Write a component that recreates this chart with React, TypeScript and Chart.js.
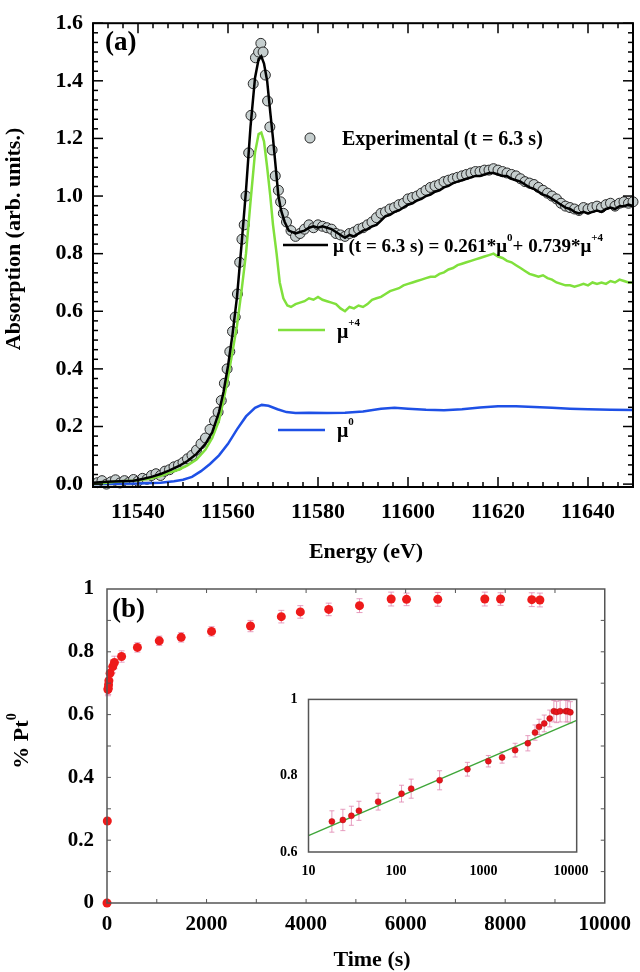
import React, { useEffect, useRef } from "react";
import { Chart, registerables } from "chart.js";

Chart.register(...registerables);

const SERIF = '"Liberation Serif", "Times New Roman", Times, serif';

// ---------------- Panel (a) data ----------------
const gridEnergy = [
  11575, 11576, 11577, 11578, 11579, 11580, 11581, 11582, 11583, 11584,
  11585, 11586, 11587, 11588, 11589, 11590, 11591, 11592, 11593, 11594,
  11595, 11596, 11597, 11598, 11599, 11600, 11601, 11602, 11603, 11604,
  11605, 11606, 11607, 11608, 11609, 11610, 11611, 11612, 11613, 11614,
  11615, 11616, 11617, 11618, 11619, 11620, 11621, 11622, 11623, 11624,
  11625, 11626, 11627, 11628, 11629, 11630, 11631, 11632, 11633, 11634,
  11635, 11636, 11637, 11638, 11639, 11640, 11641, 11642, 11643, 11644,
  11645, 11646, 11647, 11648, 11649, 11650,
];

const expEnergy = [
  11531, 11532, 11533, 11534, 11535, 11536, 11537, 11538, 11539, 11540,
  11541, 11542, 11543, 11544, 11545, 11546, 11547, 11548, 11549, 11550,
  11551, 11552, 11553, 11554, 11555, 11556, 11557,
  11557.8, 11558.5, 11559.2, 11559.8, 11560.4, 11561.0, 11561.6, 11562.1, 11562.6, 11563.1,
  11563.6, 11564.0, 11564.6, 11565.1, 11565.6, 11566.1, 11566.8, 11567.3, 11567.8, 11568.3,
  11568.8, 11569.3, 11569.8, 11570.5, 11571.2, 11571.7, 11572.3, 11573.0, 11574.0,
  ...gridEnergy,
];
const expAbs = [
  0.005, 0.012, 0.0, 0.008, 0.015, 0.004, 0.012, 0.006, 0.016, 0.01,
  0.02, 0.017, 0.03, 0.036, 0.03, 0.045, 0.05, 0.06, 0.066, 0.075,
  0.088, 0.1, 0.118, 0.14, 0.16, 0.19, 0.22,
  0.25, 0.29, 0.35, 0.4, 0.46, 0.53, 0.58, 0.66, 0.77, 0.85,
  0.9, 1.0, 1.15, 1.28, 1.39, 1.48, 1.5, 1.53, 1.5, 1.42,
  1.33, 1.24, 1.16, 1.07, 1.02, 0.98, 0.94, 0.91, 0.88,
  0.86, 0.87, 0.885, 0.9, 0.89, 0.9, 0.895, 0.89, 0.885, 0.87,
  0.865, 0.86, 0.87, 0.875, 0.885, 0.89, 0.9, 0.91, 0.925, 0.94,
  0.945, 0.955, 0.96, 0.97, 0.975, 0.99, 0.995, 1.0, 1.01, 1.02,
  1.03, 1.035, 1.04, 1.05, 1.055, 1.06, 1.065, 1.07, 1.075, 1.08,
  1.085, 1.085, 1.09, 1.09, 1.095, 1.09, 1.085, 1.08, 1.075, 1.07,
  1.06, 1.05, 1.045, 1.04, 1.03, 1.02, 1.01, 1.0, 0.99, 0.975,
  0.965, 0.96, 0.955, 0.95, 0.96, 0.955, 0.96, 0.965, 0.96, 0.97,
  0.975, 0.965, 0.975, 0.98, 0.975, 0.98,
];

const fitEnergy = [
  11530, 11533, 11536, 11539, 11541, 11543, 11545, 11547, 11549, 11551,
  11553, 11555, 11556.5, 11558, 11559, 11560, 11561, 11562, 11563, 11564,
  11565, 11566, 11566.8, 11567.4, 11568, 11568.7, 11569.4, 11570, 11570.6, 11571.2,
  11571.8, 11572.6, 11573.5,
  ...gridEnergy,
];
const fitAbs = [
  0.005, 0.008, 0.01, 0.012, 0.018, 0.025, 0.035, 0.048, 0.062, 0.08,
  0.105, 0.14, 0.18, 0.25, 0.32, 0.41, 0.52, 0.65, 0.83, 1.02,
  1.24, 1.41, 1.475, 1.485, 1.46, 1.4, 1.29, 1.2, 1.1, 1.0,
  0.95, 0.91, 0.88,
  0.87, 0.875, 0.88, 0.89, 0.895, 0.89, 0.895, 0.89, 0.885, 0.875,
  0.865, 0.855, 0.865, 0.86, 0.87, 0.88, 0.885, 0.895, 0.9, 0.915,
  0.93, 0.935, 0.945, 0.95, 0.96,
  0.97, 0.975, 0.985, 0.99, 1.0, 1.005, 1.015, 1.02, 1.03, 1.035,
  1.045, 1.05, 1.055, 1.06, 1.065, 1.07, 1.07, 1.075, 1.08, 1.08,
  1.075, 1.07, 1.07, 1.06, 1.055, 1.05, 1.04, 1.03, 1.025, 1.015,
  1.005, 1.0, 0.99, 0.98, 0.97, 0.96, 0.955, 0.945, 0.94, 0.945,
  0.94, 0.945, 0.95, 0.945, 0.955, 0.96, 0.955, 0.965, 0.965, 0.97,
  0.965,
];

const pt4Energy = [
  11530, 11533, 11536, 11539, 11541, 11543, 11545, 11547, 11549, 11551,
  11553, 11555, 11556.5, 11558, 11559, 11560, 11561, 11562, 11563, 11564,
  11565, 11566, 11566.8, 11567.4, 11568, 11568.7, 11569.4, 11570, 11570.8, 11571.5,
  11572.3, 11573.2, 11574,
  ...gridEnergy,
];
const pt4Abs = [
  0.0, 0.005, 0.01, 0.012, 0.015, 0.02, 0.028, 0.04, 0.05, 0.065,
  0.085, 0.12, 0.16, 0.22, 0.29, 0.37, 0.46, 0.55, 0.67, 0.8,
  0.98, 1.15, 1.215, 1.22, 1.19, 1.1, 1.0, 0.9, 0.8, 0.7,
  0.645, 0.62, 0.615,
  0.625, 0.63, 0.635, 0.645, 0.64, 0.65, 0.64, 0.635, 0.63, 0.625,
  0.61, 0.6, 0.615, 0.61, 0.62, 0.615, 0.625, 0.64, 0.645, 0.65,
  0.66, 0.67, 0.675, 0.68, 0.69,
  0.695, 0.7, 0.705, 0.71, 0.715, 0.72, 0.72, 0.73, 0.735, 0.745,
  0.75, 0.76, 0.765, 0.77, 0.775, 0.78, 0.785, 0.79, 0.795, 0.8,
  0.79, 0.785, 0.775, 0.77, 0.76, 0.75, 0.74, 0.73, 0.725, 0.72,
  0.725, 0.715, 0.71, 0.7, 0.695, 0.69, 0.69, 0.685, 0.69, 0.695,
  0.69, 0.7, 0.695, 0.7, 0.695, 0.705, 0.7, 0.71, 0.705, 0.7,
  0.7,
];

const pt0Energy = [
  11530, 11540, 11545, 11548, 11550, 11552, 11554, 11556, 11558, 11560,
  11562, 11564, 11566, 11567.5, 11569, 11571, 11573, 11575, 11578, 11582,
  11586, 11590, 11594, 11597, 11600, 11604, 11608, 11612, 11616, 11620,
  11624, 11628, 11632, 11636, 11640, 11645, 11650,
];
const pt0Abs = [
  0.0, 0.002, 0.005, 0.01, 0.015, 0.025, 0.045, 0.07, 0.1, 0.14,
  0.19, 0.235, 0.265, 0.275, 0.272, 0.26, 0.25, 0.247, 0.248, 0.247,
  0.248, 0.252, 0.262, 0.265, 0.262, 0.258, 0.256, 0.26, 0.266, 0.27,
  0.27, 0.268, 0.265, 0.262, 0.26, 0.258, 0.257,
];

const energyTicks = [11540, 11560, 11580, 11600, 11620, 11640];
const absTicks = [0, 0.2, 0.4, 0.6, 0.8, 1.0, 1.2, 1.4, 1.6];

// ---------------- Panel (b) data ----------------
const timeS = [
  0, 6.3, 18.5, 24.7, 30.9, 37.7, 62.5, 115.6, 149, 293,
  611, 1050, 1490, 2100, 2883, 3502, 3884, 4454, 5073, 5709,
  6018, 6645, 7590, 7907, 8534, 8697,
];
const ptFrac = [
  0, 0.261, 0.68, 0.684, 0.695, 0.708, 0.732, 0.753, 0.766, 0.785,
  0.814, 0.835, 0.846, 0.865, 0.882, 0.912, 0.927, 0.935, 0.947, 0.968,
  0.967, 0.967, 0.968, 0.968, 0.966, 0.965,
];
const ptErr = [
  0, 0, 0.02, 0.02, 0.02, 0.02, 0.02, 0.02, 0.02, 0.018,
  0.015, 0.015, 0.015, 0.015, 0.018, 0.02, 0.02, 0.02, 0.022, 0.022,
  0.02, 0.022, 0.022, 0.02, 0.022, 0.022,
];
const timeTicks = [0, 2000, 4000, 6000, 8000, 10000];
const fracTicks = [0, 0.2, 0.4, 0.6, 0.8, 1];

// inset (log time)
const insetTime = [
  18.5, 24.7, 30.9, 37.7, 62.5, 115.6, 149, 315, 654, 1135,
  1630, 2296, 3207, 3873, 4315, 4940, 5710, 6365, 6840, 7500,
  8735, 9150, 9820,
];
const insetFrac = [
  0.68, 0.684, 0.695, 0.708, 0.732, 0.753, 0.766, 0.788, 0.817, 0.838,
  0.848, 0.867, 0.885, 0.913, 0.928, 0.937, 0.95, 0.969, 0.967, 0.969,
  0.969, 0.969, 0.966,
];
const insetErr = [
  0.028, 0.028, 0.025, 0.025, 0.022, 0.022, 0.025, 0.025, 0.018, 0.015,
  0.015, 0.018, 0.02, 0.02, 0.02, 0.022, 0.022, 0.028, 0.028, 0.028,
  0.028, 0.028, 0.028,
];
const logFitTime = [10, 11600];
const logFitFrac = [0.643, 0.945];
const insetTimeTicks = [10, 100, 1000, 10000];
const insetFracTicks = [0.6, 0.8, 1];

// ---------------- helpers ----------------
type Part = { t: string; sup?: boolean };

function richWidth(ctx: CanvasRenderingContext2D, parts: Part[], size: number, supSize: number) {
  let w = 0;
  for (const p of parts) {
    ctx.font = `bold ${p.sup ? supSize : size}px ${SERIF}`;
    w += ctx.measureText(p.t).width;
  }
  return w;
}

function drawRich(
  ctx: CanvasRenderingContext2D,
  parts: Part[],
  x: number,
  baseline: number,
  size: number,
  supSize: number,
  raise: number,
  align: "left" | "center" = "left"
) {
  const w = richWidth(ctx, parts, size, supSize);
  let cx = align === "center" ? x - w / 2 : x;
  ctx.textAlign = "left";
  ctx.textBaseline = "alphabetic";
  for (const p of parts) {
    ctx.font = `bold ${p.sup ? supSize : size}px ${SERIF}`;
    ctx.fillText(p.t, cx, p.sup ? baseline - raise : baseline);
    cx += ctx.measureText(p.t).width;
  }
}

function line(ctx: CanvasRenderingContext2D, x1: number, y1: number, x2: number, y2: number) {
  ctx.beginPath();
  ctx.moveTo(x1, y1);
  ctx.lineTo(x2, y2);
  ctx.stroke();
}

function pts(xs: number[], ys: number[]) {
  return xs.map((x, i) => ({ x, y: ys[i] }));
}

function errorBars(chart: any, xs: number[], ys: number[], errs: number[], cap: number) {
  const { ctx, scales } = chart;
  ctx.save();
  ctx.strokeStyle = "rgba(226,140,180,0.85)";
  ctx.lineWidth = 1;
  xs.forEach((t, i) => {
    if (!errs[i]) return;
    const px = scales.x.getPixelForValue(t);
    const y1 = scales.y.getPixelForValue(ys[i] - errs[i]);
    const y2 = scales.y.getPixelForValue(ys[i] + errs[i]);
    line(ctx, px, y1, px, y2);
    line(ctx, px - cap, y1, px + cap, y1);
    line(ctx, px - cap, y2, px + cap, y2);
  });
  ctx.restore();
}

const tickFont = (size: number) => ({ family: SERIF, size, weight: "bold" as const });

// ---------------- plugins ----------------
const panelAPlugin = {
  id: "panelA",
  afterDraw(chart: any) {
    const { ctx, chartArea: ca, scales } = chart;
    const xs = scales.x;
    const ys = scales.y;
    ctx.save();
    ctx.strokeStyle = "#000";
    ctx.lineWidth = 2;
    ctx.strokeRect(ca.left, ca.top, ca.right - ca.left, ca.bottom - ca.top);
    ctx.lineWidth = 1.5;
    for (let k = -3; k <= 33; k++) {
      const v = 11540 + (k * 20) / 6;
      if (v < 11530 - 1e-6 || v > 11650 + 1e-6) continue;
      const px = xs.getPixelForValue(v);
      const L = k % 6 === 0 ? 10 : 5;
      line(ctx, px, ca.bottom, px, ca.bottom - L);
      line(ctx, px, ca.top, px, ca.top + L);
    }
    for (let k = 0; k <= 48; k++) {
      const v = (k * 0.2) / 6;
      const py = ys.getPixelForValue(v);
      const L = k % 6 === 0 ? 10 : 5;
      line(ctx, ca.left, py, ca.left + L, py);
      line(ctx, ca.right, py, ca.right - L, py);
    }

    ctx.fillStyle = "#000";
    // panel label
    ctx.font = `bold 27px ${SERIF}`;
    ctx.textAlign = "left";
    ctx.textBaseline = "middle";
    ctx.fillText("(a)", 105, 43);

    // legend: experimental
    ctx.beginPath();
    ctx.arc(310, 138, 5, 0, Math.PI * 2);
    ctx.fillStyle = "#c6cfcf";
    ctx.fill();
    ctx.strokeStyle = "#2a2a2a";
    ctx.lineWidth = 1;
    ctx.stroke();
    ctx.fillStyle = "#000";
    drawRich(ctx, [{ t: "Experimental (t = 6.3 s)" }], 342, 145, 20, 12, 0);

    // legend: fit
    ctx.strokeStyle = "#000";
    ctx.lineWidth = 2.5;
    line(ctx, 283, 245, 328, 245);
    drawRich(
      ctx,
      [
        { t: "\u03bc (t = 6.3 s) = 0.261*\u03bc" },
        { t: "0", sup: true },
        { t: "+ 0.739*\u03bc" },
        { t: "+4", sup: true },
      ],
      333,
      252,
      19,
      11,
      11
    );

    // legend: mu+4
    ctx.strokeStyle = "#80e03c";
    line(ctx, 278, 330, 325, 330);
    drawRich(ctx, [{ t: "\u03bc" }, { t: "+4", sup: true }], 337, 338, 20, 11, 12);

    // legend: mu0
    ctx.strokeStyle = "#1e50e6";
    line(ctx, 278, 430, 325, 430);
    drawRich(ctx, [{ t: "\u03bc" }, { t: "0", sup: true }], 337, 437, 20, 11, 12);

    // axis titles
    ctx.font = `bold 22px ${SERIF}`;
    ctx.textAlign = "center";
    ctx.textBaseline = "middle";
    ctx.fillText("Energy (eV)", 366, 552);
    ctx.save();
    ctx.translate(14, 239);
    ctx.rotate(-Math.PI / 2);
    ctx.fillText("Absorption (arb. units.)", 0, 0);
    ctx.restore();
    ctx.restore();
  },
};

const panelBPlugin = {
  id: "panelB",
  beforeDatasetsDraw(chart: any) {
    errorBars(chart, timeS, ptFrac, ptErr, 3);
  },
  afterDraw(chart: any) {
    const { ctx, chartArea: ca, scales } = chart;
    ctx.save();
    ctx.strokeStyle = "#555";
    ctx.lineWidth = 1.5;
    ctx.strokeRect(ca.left, ca.top, ca.right - ca.left, ca.bottom - ca.top);
    ctx.lineWidth = 1;
    for (let k = 1; k < 10; k++) {
      const px = scales.x.getPixelForValue(k * 1000);
      line(ctx, px, ca.bottom, px, ca.bottom - 4);
      line(ctx, px, ca.top, px, ca.top + 4);
    }
    for (let k = 1; k < 10; k++) {
      const py = scales.y.getPixelForValue(k / 10);
      line(ctx, ca.left, py, ca.left + 4, py);
      line(ctx, ca.right, py, ca.right - 4, py);
    }
    ctx.fillStyle = "#000";
    ctx.font = `bold 27px ${SERIF}`;
    ctx.textAlign = "left";
    ctx.textBaseline = "middle";
    ctx.fillText("(b)", 112, 70);

    ctx.font = `bold 22px ${SERIF}`;
    ctx.textAlign = "center";
    ctx.fillText("Time (s)", 372, 420);

    ctx.save();
    ctx.translate(21, 201);
    ctx.rotate(-Math.PI / 2);
    drawRich(ctx, [{ t: "% Pt" }, { t: "0", sup: true }], 0, 7, 22, 14, 12, "center");
    ctx.restore();
    ctx.restore();
  },
};

const insetPlugin = {
  id: "inset",
  beforeDatasetsDraw(chart: any) {
    errorBars(chart, insetTime, insetFrac, insetErr, 2.5);
  },
  afterDraw(chart: any) {
    const { ctx, chartArea: ca } = chart;
    ctx.save();
    ctx.strokeStyle = "#555";
    ctx.lineWidth = 1.5;
    ctx.strokeRect(ca.left, ca.top, ca.right - ca.left, ca.bottom - ca.top);
    ctx.restore();
  },
};

export default function App() {
  const aRef = useRef<HTMLCanvasElement>(null);
  const bRef = useRef<HTMLCanvasElement>(null);
  const iRef = useRef<HTMLCanvasElement>(null);

  useEffect(() => {
    const charts: Chart[] = [];

    charts.push(
      new Chart(aRef.current as HTMLCanvasElement, {
        type: "scatter",
        data: {
          datasets: [
            {
              label: "fit",
              data: pts(fitEnergy, fitAbs),
              showLine: true,
              borderColor: "#000",
              borderWidth: 2.5,
              pointRadius: 0,
            },
            {
              label: "mu+4",
              data: pts(pt4Energy, pt4Abs),
              showLine: true,
              borderColor: "#80e03c",
              borderWidth: 2.5,
              pointRadius: 0,
            },
            {
              label: "mu0",
              data: pts(pt0Energy, pt0Abs),
              showLine: true,
              borderColor: "#1e50e6",
              borderWidth: 2.5,
              pointRadius: 0,
            },
            {
              label: "Experimental",
              data: pts(expEnergy, expAbs),
              showLine: false,
              pointRadius: 5,
              pointBackgroundColor: "#c6cfcf",
              pointBorderColor: "#2a2a2a",
              pointBorderWidth: 1,
              clip: false,
            } as any,
          ],
        },
        options: {
          responsive: false,
          animation: false,
          devicePixelRatio: 1,
          layout: { padding: { top: 16, right: 7, left: 0, bottom: 0 } },
          plugins: { legend: { display: false }, tooltip: { enabled: false } },
          scales: {
            x: {
              type: "linear",
              min: 11530,
              max: 11650,
              grid: { display: false, drawTicks: false },
              border: { display: false },
              afterBuildTicks: (s: any) => {
                s.ticks = energyTicks.map((v) => ({ value: v }));
              },
              afterFit: (s: any) => {
                s.height = 93;
              },
              ticks: {
                color: "#000",
                font: tickFont(22),
                padding: 12,
                maxRotation: 0,
                autoSkip: false,
                callback: (v: any) => String(v),
              },
            },
            y: {
              type: "linear",
              min: -0.01,
              max: 1.6,
              grid: { display: false, drawTicks: false },
              border: { display: false },
              afterBuildTicks: (s: any) => {
                s.ticks = absTicks.map((v) => ({ value: v }));
              },
              afterFit: (s: any) => {
                s.width = 93;
              },
              ticks: {
                color: "#000",
                font: tickFont(22),
                padding: 10,
                autoSkip: false,
                callback: (v: any) => Number(v).toFixed(1),
              },
            },
          },
        } as any,
        plugins: [panelAPlugin],
      })
    );

    charts.push(
      new Chart(bRef.current as HTMLCanvasElement, {
        type: "scatter",
        data: {
          datasets: [
            {
              label: "% Pt0",
              data: pts(timeS, ptFrac),
              pointRadius: 4.5,
              pointBackgroundColor: "#ee1a1a",
              pointBorderColor: "#ee1a1a",
              pointBorderWidth: 0,
              clip: false,
            } as any,
          ],
        },
        options: {
          responsive: false,
          animation: false,
          devicePixelRatio: 1,
          layout: { padding: { top: 49, right: 32, left: 0, bottom: 0 } },
          plugins: { legend: { display: false }, tooltip: { enabled: false } },
          scales: {
            x: {
              type: "linear",
              min: 0,
              max: 10000,
              grid: { display: false, drawTicks: false },
              border: { display: false },
              afterBuildTicks: (s: any) => {
                s.ticks = timeTicks.map((v) => ({ value: v }));
              },
              afterFit: (s: any) => {
                s.height = 69;
              },
              ticks: {
                color: "#000",
                font: tickFont(21),
                padding: 9,
                maxRotation: 0,
                autoSkip: false,
                callback: (v: any) => String(v),
              },
            },
            y: {
              type: "linear",
              min: 0,
              max: 1,
              grid: { display: false, drawTicks: false },
              border: { display: false },
              afterBuildTicks: (s: any) => {
                s.ticks = fracTicks.map((v) => ({ value: v }));
              },
              afterFit: (s: any) => {
                s.width = 107;
              },
              ticks: {
                color: "#000",
                font: tickFont(21),
                padding: 13,
                autoSkip: false,
                callback: (v: any) => String(Number(Number(v).toFixed(1))),
              },
            },
          },
        } as any,
        plugins: [panelBPlugin],
      })
    );

    charts.push(
      new Chart(iRef.current as HTMLCanvasElement, {
        type: "scatter",
        data: {
          datasets: [
            {
              label: "inset",
              data: pts(insetTime, insetFrac),
              pointRadius: 3,
              pointBackgroundColor: "#e8141c",
              pointBorderColor: "#b01010",
              pointBorderWidth: 0.5,
            },
            {
              label: "log fit",
              data: pts(logFitTime, logFitFrac),
              showLine: true,
              borderColor: "#3fa63a",
              borderWidth: 1.5,
              pointRadius: 0,
            },
          ],
        },
        options: {
          responsive: false,
          animation: false,
          devicePixelRatio: 1,
          layout: { padding: { top: 18, right: 22, left: 0, bottom: 0 } },
          plugins: { legend: { display: false }, tooltip: { enabled: false } },
          scales: {
            x: {
              type: "logarithmic",
              min: 10,
              max: 11600,
              grid: { display: false, drawTicks: false },
              border: { display: false },
              afterBuildTicks: (s: any) => {
                s.ticks = insetTimeTicks.map((v) => ({ value: v }));
              },
              afterFit: (s: any) => {
                s.height = 38;
              },
              ticks: {
                color: "#000",
                font: tickFont(14),
                padding: 11,
                maxRotation: 0,
                autoSkip: false,
                callback: (v: any) => String(v),
              },
            },
            y: {
              type: "linear",
              min: 0.6,
              max: 1,
              grid: { display: false, drawTicks: false },
              border: { display: false },
              afterBuildTicks: (s: any) => {
                s.ticks = insetFracTicks.map((v) => ({ value: v }));
              },
              afterFit: (s: any) => {
                s.width = 48.5;
              },
              ticks: {
                color: "#000",
                font: tickFont(14),
                padding: 11,
                autoSkip: false,
                callback: (v: any) => String(Number(Number(v).toFixed(1))),
              },
            },
          },
        } as any,
        plugins: [insetPlugin],
      })
    );

    return () => charts.forEach((c) => c.destroy());
  }, []);

  return (
    <div style={{ position: "absolute", left: 0, top: 0, width: 640, height: 972, background: "#fff" }}>
      <canvas
        ref={aRef}
        width={640}
        height={580}
        style={{ position: "absolute", left: 0, top: 0, width: 640, height: 580 }}
      />
      <canvas
        ref={bRef}
        width={640}
        height={432}
        style={{ position: "absolute", left: 0, top: 540, width: 640, height: 432 }}
      />
      <canvas
        ref={iRef}
        width={340}
        height={210}
        style={{ position: "absolute", left: 260, top: 680, width: 340, height: 210 }}
      />
    </div>
  );
}
